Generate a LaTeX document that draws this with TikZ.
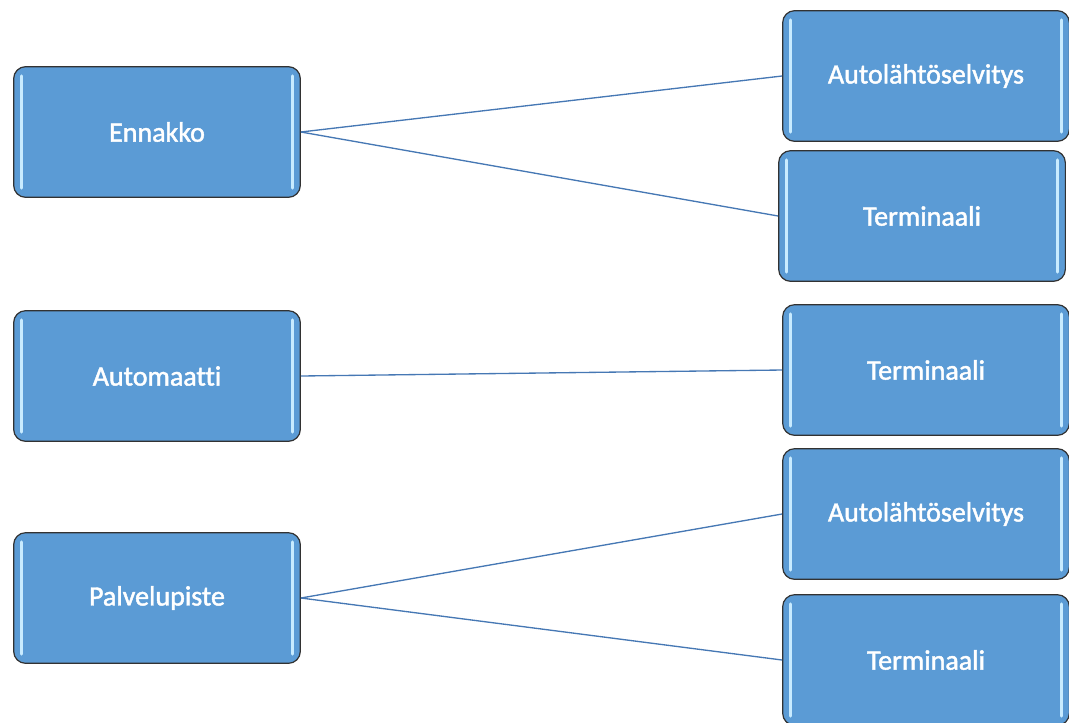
\documentclass[tikz,border=0pt]{standalone}
\usepackage{fontspec}
\setmainfont{Carlito}[Ligatures=NoCommon]
\newfontfamily\boxfont{Carlito}[Ligatures=NoCommon, FakeBold=1.6]
\definecolor{boxfill}{RGB}{91,155,213}
\definecolor{boxedge}{RGB}{50,50,50}
\definecolor{barcol}{RGB}{200,235,255}
\definecolor{linkcol}{RGB}{70,120,180}
\tikzset{
  box/.style={draw=boxedge, line width=0.9pt, fill=boxfill, rounded corners=9pt,
    minimum width=215pt, minimum height=98pt, text=white,
    font=\boxfont\fontsize{21}{25}\selectfont,
    path picture={
      \draw[barcol, line width=2.4pt, line cap=round]
        ([xshift=6pt,yshift=-7pt]path picture bounding box.north west) --
        ([xshift=6pt,yshift=7pt]path picture bounding box.south west);
      \draw[barcol, line width=2.4pt, line cap=round]
        ([xshift=-6pt,yshift=-7pt]path picture bounding box.north east) --
        ([xshift=-6pt,yshift=7pt]path picture bounding box.south east);
    }},
  link/.style={draw=linkcol, line width=1pt}
}
\begin{document}
\begin{tikzpicture}[x=0.75pt,y=-0.75pt]
    \useasboundingbox (0,0) rectangle (1069,722);
    % left column
    \node (enn) at (157,132) [box] {Ennakko};
    \node (aut) at (157,376) [box] {Automaatti};
    \node (pal) at (157,598) [box] {Palvelupiste};
    % right column
    \node (auto1) at (926,76) [box] {Autolähtöselvitys};
    \node (term1) at (922,216) [box] {Terminaali};
    \node (term2) at (926,370) [box] {Terminaali};
    \node (auto2) at (926,514) [box] {Autolähtöselvitys};
    \node (term3) at (926,660) [box] {Terminaali};
    % connectors
    \draw [link] (enn.east) -- (auto1.west);
    \draw [link] (enn.east) -- (term1.west);
    \draw [link] (aut.east) -- (term2.west);
    \draw [link] (pal.east) -- (auto2.west);
    \draw [link] (pal.east) -- (term3.west);
\end{tikzpicture}
\end{document}
